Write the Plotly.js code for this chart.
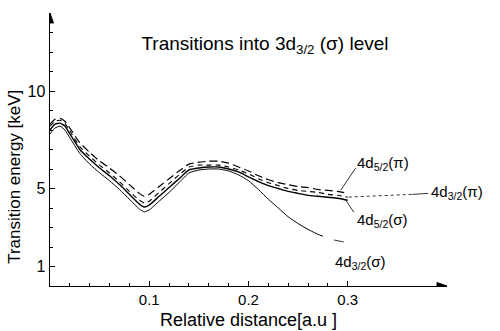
<!DOCTYPE html>
<html>
<head>
<meta charset="utf-8">
<script src="https://cdn.plot.ly/plotly-3.0.1.min.js"></script>
<style>html,body{margin:0;padding:0;background:#fff}#chart{width:500px;height:331px}</style>
</head>
<body>
<div id="chart"></div>
<script>
// Relative distance [a.u.]
var xFull = [0, 0.005, 0.01, 0.015, 0.02, 0.03, 0.04, 0.05, 0.06, 0.07, 0.08, 0.09, 0.095, 0.1, 0.11, 0.12, 0.13, 0.14, 0.15, 0.16, 0.17, 0.18, 0.19, 0.2, 0.21, 0.22, 0.23, 0.24, 0.25, 0.26, 0.27, 0.28, 0.29, 0.3];
var xShort = [0, 0.005, 0.01, 0.015, 0.02, 0.03, 0.04, 0.05, 0.06, 0.07, 0.08, 0.09, 0.095, 0.1, 0.11, 0.12, 0.13, 0.14, 0.15, 0.16, 0.17, 0.18, 0.19, 0.2, 0.21, 0.22, 0.23, 0.24, 0.25, 0.26, 0.27, 0.275];

// Transition energy [keV]
var e4d52pi = [8.3, 8.55, 8.6, 8.45, 8.1, 7.35, 6.85, 6.4, 6.05, 5.65, 5.2, 4.75, 4.6, 4.7, 5.1, 5.5, 5.9, 6.25, 6.35, 6.4, 6.4, 6.3, 6.1, 5.9, 5.65, 5.45, 5.3, 5.2, 5.1, 5.05, 4.95, 4.9, 4.85, 4.75];
var e4d32pi = [8.2, 8.45, 8.5, 8.35, 7.95, 7.15, 6.65, 6.2, 5.8, 5.35, 4.85, 4.4, 4.25, 4.35, 4.8, 5.25, 5.7, 6.1, 6.2, 6.2, 6.2, 6.1, 5.95, 5.75, 5.5, 5.3, 5.15, 5.0, 4.9, 4.85, 4.8, 4.7, 4.65, 4.55];
var e4d52sigma = [8.0, 8.3, 8.35, 8.2, 7.8, 7.0, 6.5, 6.05, 5.65, 5.2, 4.7, 4.2, 4.05, 4.15, 4.6, 5.05, 5.5, 5.95, 6.05, 6.1, 6.1, 6.0, 5.85, 5.6, 5.35, 5.15, 5.0, 4.85, 4.75, 4.65, 4.6, 4.55, 4.5, 4.4];
var e4d32sigma = [7.8, 8.1, 8.2, 8.0, 7.6, 6.8, 6.25, 5.8, 5.4, 4.95, 4.45, 3.95, 3.8, 3.9, 4.35, 4.8, 5.3, 5.8, 5.95, 6.0, 6.0, 5.9, 5.7, 5.4, 4.95, 4.45, 4.0, 3.55, 3.2, 2.9, 2.65, 2.55];

// Tick labels
var xTickVals = [0.1, 0.2, 0.3];
var xTickText = ['0.1', '0.2', '0.3'];
var xMinorVals = [0.02, 0.04, 0.06, 0.08, 0.12, 0.14, 0.16, 0.18, 0.22, 0.24, 0.26, 0.28];
var yTickVals = [1, 5, 10];
var yTickText = ['1', '5', '10'];
var yMinorVals = [2, 3, 4, 6, 7, 8, 9, 11, 12, 13];

var FONT = 'Liberation Sans, Arial, sans-serif';

function tr(x, y, name, dash, w) {
  return {x: x, y: y, name: name, type: 'scatter', mode: 'lines',
    line: {color: '#000', width: w, dash: dash, shape: 'spline', smoothing: 0.45},
    showlegend: false, hoverinfo: 'skip'};
}

var data = [
  tr(xFull, e4d52pi, '4d5/2(π)', '8px,4px', 1.2),
  tr(xFull, e4d32pi, '4d3/2(π)', '5px,4px', 1.1),
  tr(xFull, e4d52sigma, '4d5/2(σ)', 'solid', 1.4),
  tr(xShort, e4d32sigma, '4d3/2(σ)', 'solid', 1.0)
];

var lblFont = {family: FONT, size: 15, color: '#000'};
function lbl(x, y, text) {
  return {x: x, y: y, xref: 'x', yref: 'y', text: text, showarrow: false,
    xanchor: 'left', yanchor: 'middle', font: lblFont};
}
function seg(x0, y0, x1, y1, dash) {
  return {type: 'line', xref: 'x', yref: 'y', x0: x0, y0: y0, x1: x1, y1: y1,
    line: {color: '#000', width: 0.8, dash: dash || 'solid'}};
}

var layout = {
  width: 500, height: 331,
  margin: {l: 50, r: 53, t: 13, b: 45},
  paper_bgcolor: '#fff', plot_bgcolor: '#fff',
  font: {family: FONT, color: '#000', size: 14},
  title: {text: 'Transitions into 3d<sub>3/2</sub> (σ) level', x: 0.53, xanchor: 'center',
    y: 0.87, yanchor: 'middle', yref: 'container', font: {family: FONT, size: 19, color: '#000'}},
  xaxis: {range: [0, 0.4], showgrid: false, zeroline: false, showline: true, linecolor: '#000', linewidth: 1.4,
    tickmode: 'array', tickvals: xTickVals, ticktext: xTickText, ticks: 'inside', ticklen: 5, tickwidth: 1, tickcolor: '#000',
    tickfont: {family: FONT, size: 15, color: '#000'},
    minor: {tickmode: 'array', tickvals: xMinorVals, ticks: 'inside', ticklen: 3, tickwidth: 1, tickcolor: '#000', showgrid: false},
    title: {text: 'Relative distance[a.u ]', standoff: 6, font: {family: FONT, size: 18, color: '#000'}}},
  yaxis: {range: [0, 14], showgrid: false, zeroline: false, showline: true, linecolor: '#000', linewidth: 1.4,
    tickmode: 'array', tickvals: yTickVals, ticktext: yTickText, ticks: 'inside', ticklen: 5, tickwidth: 1, tickcolor: '#000',
    tickfont: {family: FONT, size: 16, color: '#000'},
    minor: {tickmode: 'array', tickvals: yMinorVals, ticks: 'inside', ticklen: 3, tickwidth: 1, tickcolor: '#000', showgrid: false}},
  shapes: [
    seg(0.308, 6.05, 0.293, 4.92),
    seg(0.301, 4.56, 0.365, 4.7, 'dot'),
    seg(0.365, 4.7, 0.381, 4.75),
    seg(0.298, 4.41, 0.306, 3.79),
    seg(0.286, 2.36, 0.296, 2.26),
    // axis arrowheads
    {type: 'path', xref: 'x', yref: 'y', xsizemode: 'pixel', ysizemode: 'pixel', xanchor: 0.4, yanchor: 0,
      path: 'M0,0 L-10,3.5 L-10,-3.5 Z', fillcolor: '#000', line: {color: '#000', width: 1}},
    {type: 'path', xref: 'x', yref: 'y', xsizemode: 'pixel', ysizemode: 'pixel', xanchor: 0, yanchor: 14,
      path: 'M0,0 L-3.5,-10 L3.5,-10 Z', fillcolor: '#000', line: {color: '#000', width: 1}}
  ],
  annotations: [
    {x: -0.088, y: 0.4, xref: 'paper', yref: 'paper', text: 'Transition energy [keV]', textangle: -90,
      showarrow: false, xanchor: 'center', yanchor: 'middle', font: {family: FONT, size: 17, color: '#000'}},
    lbl(0.307, 6.3, '4d<sub>5/2</sub>(π)'),
    lbl(0.382, 4.82, '4d<sub>3/2</sub>(π)'),
    lbl(0.307, 3.38, '4d<sub>5/2</sub>(σ)'),
    lbl(0.285, 1.23, '4d<sub>3/2</sub>(σ)')
  ]
};

Plotly.newPlot('chart', data, layout, {staticPlot: true, displayModeBar: false});
</script>
</body>
</html>
